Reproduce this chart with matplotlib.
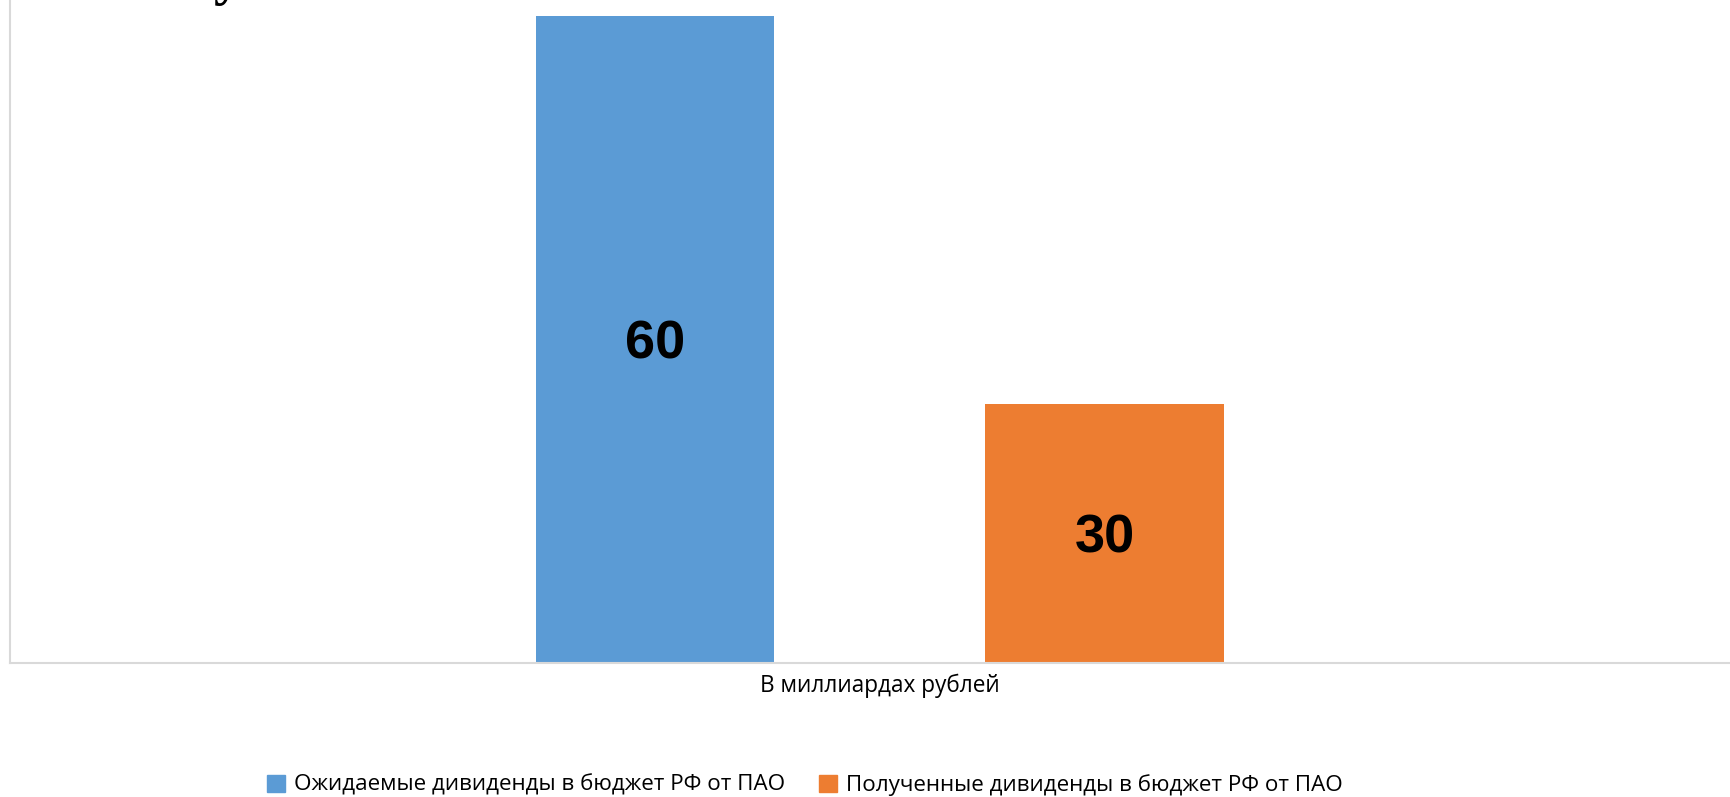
import matplotlib.pyplot as plt
from matplotlib.patches import Patch

# data
series = ['Ожидаемые дивиденды в бюджет РФ от ПАО',
          'Полученные дивиденды в бюджет РФ от ПАО']
values = [60, 30]
colors = ['#5B9BD5', '#ED7D31']
category = 'В миллиардах рублей'

fig = plt.figure(figsize=(17.31, 7.97), dpi=100)
ax = fig.add_axes([10 / 1731, 1 - 663 / 797, 1.0, 663 / 797])

ymin, ymax = 10, 61.2
xpos = [0, 1]
ax.bar(xpos, values, width=0.53, color=colors, zorder=2)
for x, v in zip(xpos, values):
    ax.text(x, (ymin + v) / 2 - 0.4, str(v), ha='center', va='center',
            fontsize=39, fontweight='bold', family='Liberation Sans')

ax.set_ylim(ymin, ymax)
ax.set_xlim(-1.435, 2.394 + (2.394 + 1.435) * (10 / 1731))
ax.set_yticks([])
ax.set_xticks([])
for s in ['top', 'right']:
    ax.spines[s].set_visible(False)
for s in ['left', 'bottom']:
    ax.spines[s].set_color('#d9d9d9')
    ax.spines[s].set_linewidth(1.5)

fig.text(880 / 1731, 1 - 686 / 797, category, ha='center', va='center',
         fontsize=16.3, family=['Liberation Sans Narrow', 'Open Sans'])

# cut-off title glyph at the top
fig.text(214 / 1731, 1 + 6 / 797, 'у', ha='left', va='baseline',
         fontsize=40, fontweight='bold', family='Liberation Serif')

handles = [Patch(color=c) for c in colors]
fig.legend(handles, series, loc='center', bbox_to_anchor=(805 / 1731, 1 - 785 / 797),
           ncol=2, frameon=False, handlelength=0.8, handleheight=0.8,
           handletextpad=0.4, columnspacing=1.5,
           prop={'family': ['Liberation Sans Narrow', 'Open Sans'], 'size': 16.1})

fig.savefig('out.png', dpi=100)
